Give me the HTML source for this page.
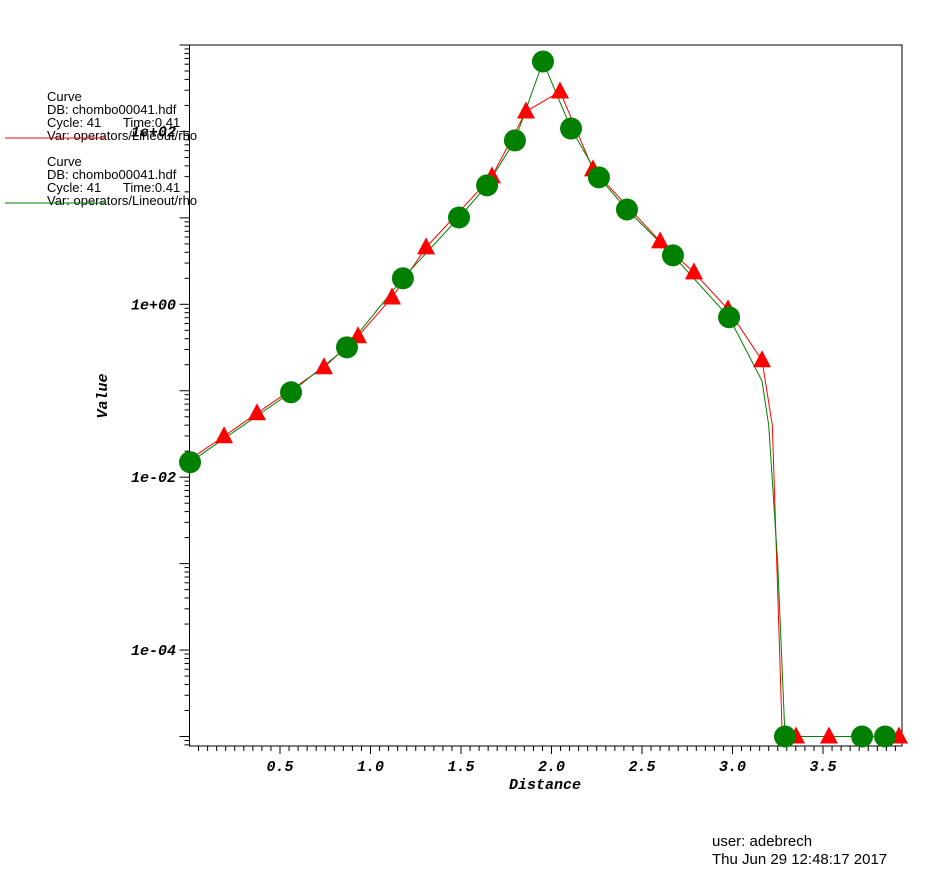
<!DOCTYPE html>
<html><head><meta charset="utf-8"><style>
body{margin:0;background:#fff;}
svg{display:block;font-family:"Liberation Sans",sans-serif;}
.tk{font-family:"Liberation Mono",monospace;font-weight:bold;font-style:italic;font-size:15px;}
</style></head><body>
<svg id="chart" width="950" height="878" viewBox="0 0 950 878">
<g id="axes"></g>
<g id="series"></g>
<g font-size="13" fill="#000">
 <text x="47" y="101">Curve</text>
 <text x="47" y="114">DB: chombo00041.hdf</text>
 <text x="47" y="127">Cycle: 41&#160;&#160;&#160;&#160;&#160;&#160;Time:0.41</text>
 <text x="47" y="140">Var: operators/Lineout/rho</text>
 <line x1="5" y1="138" x2="105" y2="138" stroke="#f00"/>
 <text x="47" y="166">Curve</text>
 <text x="47" y="179">DB: chombo00041.hdf</text>
 <text x="47" y="192">Cycle: 41&#160;&#160;&#160;&#160;&#160;&#160;Time:0.41</text>
 <text x="47" y="205">Var: operators/Lineout/rho</text>
 <line x1="5" y1="203" x2="105" y2="203" stroke="#008000"/>
</g>
<text class="tk" x="545" y="789" text-anchor="middle">Distance</text>
<text class="tk" x="107" y="396" text-anchor="middle" transform="rotate(-90 107 396)">Value</text>
<text x="712" y="846" font-size="15">user: adebrech</text>
<text x="712" y="864" font-size="15">Thu Jun 29 12:48:17 2017</text>
</svg>
<script>
const xTicks=[0.5,1.0,1.5,2.0,2.5,3.0,3.5];
const yTickLabels=["1e+02","1e+00","1e-02","1e-04"];
const yTickValues=[100,1,0.01,0.0001];
const redLineX=[0.0,0.191,0.373,0.743,0.931,1.119,1.307,1.671,1.859,2.047,2.229,2.600,2.787,2.975,3.163,3.22,3.26,3.275,3.351,3.533,3.94];
const redLineY=[0.016,0.0298,0.055,0.187,0.427,1.2,4.56,30.2,170,290,36.4,5.35,2.34,0.875,0.225,0.04,0.0001,0.00001,0.00001,0.00001,0.00001];
const redMarkX=[0.191,0.373,0.743,0.931,1.119,1.307,1.671,1.859,2.047,2.229,2.600,2.787,2.975,3.163,3.351,3.533,3.920];
const redMarkY=[0.0298,0.055,0.187,0.427,1.2,4.56,30.2,170,290,36.4,5.35,2.34,0.875,0.225,0.00001,0.00001,0.00001];
const greenLineX=[0.003,0.561,0.870,1.179,1.489,1.644,1.798,1.953,2.108,2.262,2.417,2.671,2.981,3.163,3.20,3.25,3.29,3.716,3.843,3.94];
const greenLineY=[0.0149,0.096,0.318,2.0,10.1,23.8,78.7,644,108,29.4,12.5,3.68,0.708,0.13,0.04,0.001,0.00001,0.00001,0.00001,0.00001];
const greenMarkX=[0.003,0.561,0.870,1.179,1.489,1.644,1.798,1.953,2.108,2.262,2.417,2.671,2.981,3.290,3.716,3.843];
const greenMarkY=[0.0149,0.096,0.318,2.0,10.1,23.8,78.7,644,108,29.4,12.5,3.68,0.708,0.00001,0.00001,0.00001];

const NS="http://www.w3.org/2000/svg";
const L=189.5,R=902,T=45,B=746;
const X0=0,X1=(R-L)/181;
const LY0=-5.11,LY1=3.0;
function sx(v){return L+(v-X0)/(X1-X0)*(R-L);}
function sy(v){return B-(Math.log10(v)-LY0)/(LY1-LY0)*(B-T);}
function mk(tag,attrs,parent){const e=document.createElementNS(NS,tag);for(const k in attrs)e.setAttribute(k,attrs[k]);parent.appendChild(e);return e;}
const ax=document.getElementById('axes');
const frame=mk('rect',{x:L,y:T,width:R-L,height:B-T,fill:'none',stroke:'#000','stroke-width':1},ax);


for(let i=1;i*0.05<X1;i++){const v=i*0.05;const major=(i%10===0);const t=mk('line',{x1:sx(v),x2:sx(v),y1:B,y2:B+(major?8:5),stroke:'#000'},ax);

}
xTicks.forEach(v=>{const t=mk('text',{x:sx(v),y:771,'text-anchor':'middle',class:'tk'},ax);t.textContent=v.toFixed(1);

});
for(let d=-6;d<=3;d++){for(let m=1;m<=9;m++){const v=m*Math.pow(10,d);const y=sy(v);if(y<T-0.5||y>B+0.5)continue;const t=mk('line',{x1:L,x2:L-(m===1?10:5),y1:y,y2:y,stroke:'#000'},ax);

}}
yTickValues.forEach((v,i)=>{const t=mk('text',{x:176,y:sy(v)+5,'text-anchor':'end',class:'tk'},ax);t.textContent=yTickLabels[i];

});
const sg=document.getElementById('series');
function line(xs,ys,col,name){const p=mk('polyline',{points:xs.map((x,i)=>sx(x)+','+sy(ys[i])).join(' '),fill:'none',stroke:col,'stroke-width':1},sg);

}
line(redLineX,redLineY,'#f00','red-line');
line(greenLineX,greenLineY,'#008000','green-line');
redMarkX.forEach((x,i)=>{const cx=sx(x),cy=sy(redMarkY[i]);const p=mk('polygon',{points:`${cx},${cy-10} ${cx-9},${cy+7} ${cx+9},${cy+7}`,fill:'#f00'},sg);

});
greenMarkX.forEach((x,i)=>{const c=mk('circle',{cx:sx(x),cy:sy(greenMarkY[i]),r:11,fill:'#008000'},sg);

});
</script>
</body></html>
